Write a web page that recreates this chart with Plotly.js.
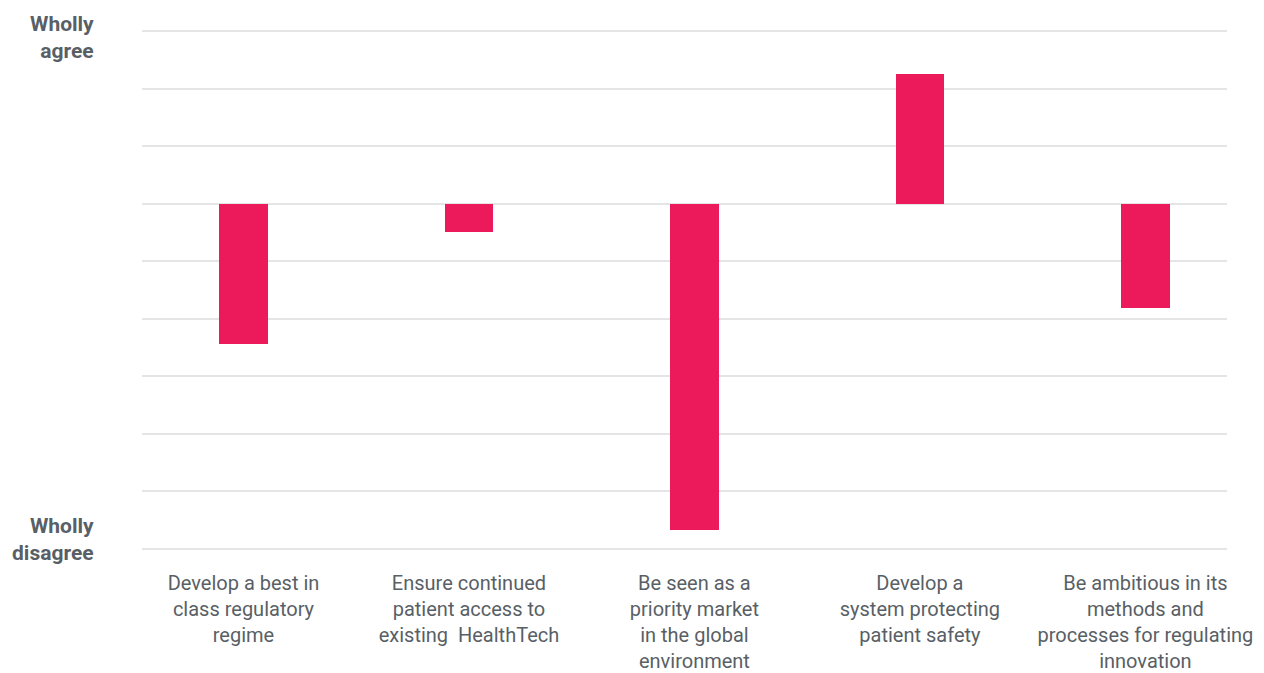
<!DOCTYPE html>
<html>
<head>
<meta charset="utf-8">
<script src="https://cdn.plot.ly/plotly-3.0.1.min.js"></script>
<style>html,body{margin:0;padding:0;background:#fff;}#chart{width:1264px;height:673px;}</style>
</head>
<body>
<div id="chart"></div>
<script>
const categories = [
  "Develop a best in<br>class regulatory<br>regime",
  "Ensure continued<br>patient access to<br>existing  HealthTech",
  "Be seen as a<br>priority market<br>in the global<br>environment",
  "Develop a<br>system protecting<br>patient safety",
  "Be ambitious in its<br>methods and<br>processes for regulating<br>innovation"
];
const values = [-2.43, -0.5, -5.68, 2.25, -1.82];
const yTopLabel = "Wholly<br>agree";
const yBottomLabel = "Wholly<br>disagree";

const textColor = "#595f66";
const idx = categories.map((c, i) => i);

const trace = {
  type: "bar",
  x: idx,
  y: values,
  width: 0.215,
  marker: {color: "#ED1A5B"},
  hoverinfo: "skip"
};

const layout = {
  width: 1264,
  height: 673,
  margin: {l: 142, r: 37, t: 29.85, b: 123.35},
  paper_bgcolor: "#ffffff",
  plot_bgcolor: "#ffffff",
  showlegend: false,
  font: {family: "Roboto, sans-serif", color: textColor},
  xaxis: {
    range: [-0.45, 4.362],
    tickmode: "array",
    tickvals: idx,
    ticktext: categories,
    ticks: "",
    showgrid: false,
    zeroline: false,
    showline: false,
    tickfont: {family: "Roboto, sans-serif", size: 20, color: textColor},
    ticklabelstandoff: 19
  },
  yaxis: {
    range: [-6.02, 3.02],
    tickmode: "linear",
    tick0: 0,
    dtick: 1,
    showticklabels: false,
    ticks: "",
    showgrid: true,
    gridcolor: "#e3e5e6",
    gridwidth: 2,
    zeroline: true,
    zerolinecolor: "#e3e5e6",
    zerolinewidth: 2,
    showline: false
  },
  bargap: 0,
  annotations: [
    {text: yTopLabel, xref: "paper", yref: "y", x: -0.0424, y: 2.89, xanchor: "right", yanchor: "middle", align: "right", showarrow: false,
     font: {family: "Roboto, sans-serif", size: 21, color: textColor, weight: "bold"}},
    {text: yBottomLabel, xref: "paper", yref: "y", x: -0.0424, y: -5.84, xanchor: "right", yanchor: "middle", align: "right", showarrow: false,
     font: {family: "Roboto, sans-serif", size: 21, color: textColor, weight: "bold"}}
  ]
};

Plotly.newPlot("chart", [trace], layout, {displayModeBar: false, staticPlot: true});
</script>
</body>
</html>
